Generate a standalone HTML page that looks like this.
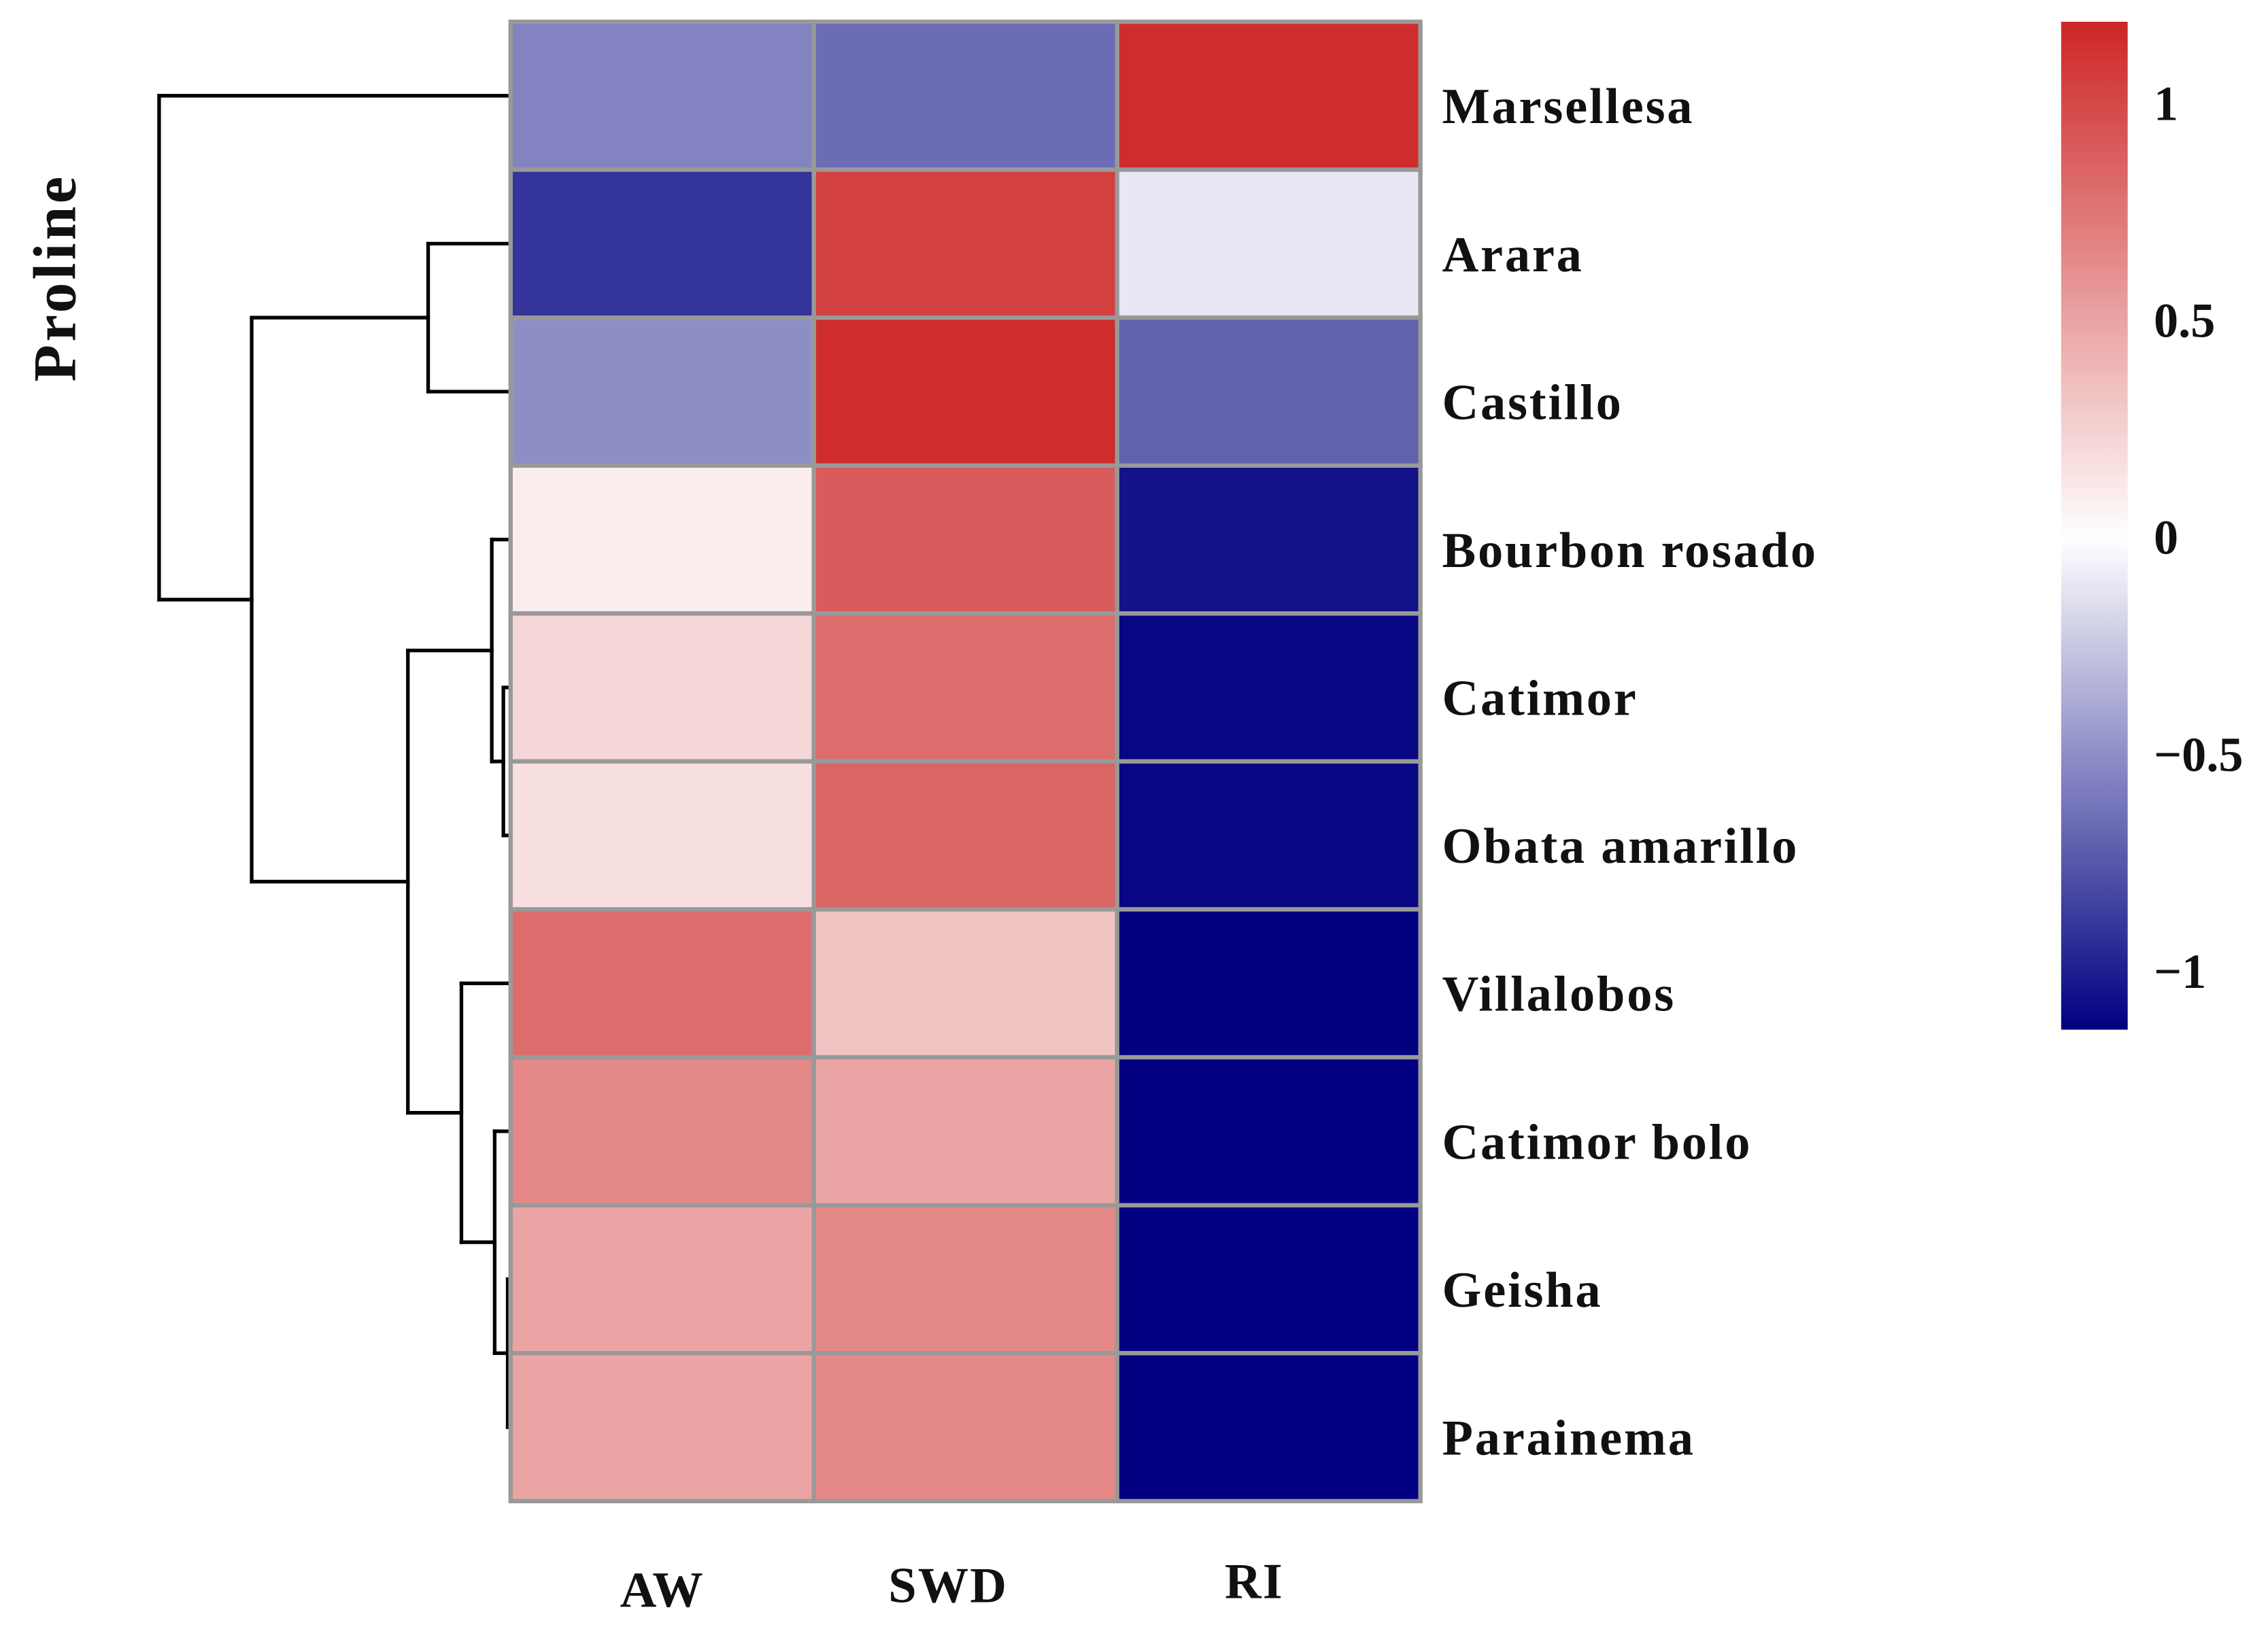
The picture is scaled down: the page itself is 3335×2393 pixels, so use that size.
<!DOCTYPE html>
<html>
<head>
<meta charset="utf-8">
<style>
html,body{margin:0;padding:0;background:#fff;}
svg{display:block;}
text{font-family:"Liberation Serif",serif;font-weight:bold;fill:#111;}
</style>
</head>
<body>
<svg id="chart" width="3335" height="2393" viewBox="0 0 1568 1125" xmlns="http://www.w3.org/2000/svg">
<defs>
<linearGradient id="cbg" x1="0" y1="1" x2="0" y2="0">
<stop offset="0" stop-color="#000080"/>
<stop offset="0.487" stop-color="#ffffff"/>
<stop offset="1" stop-color="#cd2626"/>
</linearGradient>
</defs>
<g id="dendro"></g>
<g id="cells"></g>
<g id="rowlabels"></g>
<g id="collabels"></g>
<text transform="translate(52,192) rotate(-90)" text-anchor="middle" font-size="42" letter-spacing="2">Proline</text>
<rect x="1425" y="15" width="46" height="697" fill="url(#cbg)"/>
<g id="cbticks"></g>
</svg>
<script>
const rows = ["Marsellesa","Arara","Castillo","Bourbon rosado","Catimor","Obata amarillo","Villalobos","Catimor bolo","Geisha","Parainema"];
const cols = ["AW","SWD","RI"];
const valAW  = [-0.55,-0.9,-0.5,0.1,0.22,0.17,0.8,0.65,0.5,0.5];
const valSWD = [-0.65,1.05,1.15,0.9,0.8,0.85,0.33,0.5,0.65,0.65];
const valRI  = [1.15,-0.1,-0.7,-1.05,-1.1,-1.1,-1.12,-1.13,-1.14,-1.14];
const cbTicks = [1,0.5,0,-0.5,-1];
const cbTickLabels = ["1","0.5","0","\u22120.5","\u22121"];
// dendrogram merges: [leftNode, rightNode, height(x-position)]
const merges = [[1,2,296],[4,5,348],[3,"m1",340],[8,9,351],[7,"m3",342],[6,"m4",319],["m2","m5",282],["m0","m6",174],[0,"m7",110]];

const NS="http://www.w3.org/2000/svg";
const x0=353,x1=982,y0=15,y1=1038;
const cw=(x1-x0)/cols.length, rh=(y1-y0)/rows.length;
const vmin=-1.13,vmax=1.19;
const colX=i=>x0+i*cw;
const rowY=i=>y0+i*rh;
const vY=v=>372-v*300;
function color(v){
  let a,b,t;
  if(v>=0){a=[255,255,255];b=[205,38,38];t=Math.min(1,v/vmax);}
  else{a=[255,255,255];b=[0,0,128];t=Math.min(1,v/vmin);}
  const c=a.map((x,i)=>Math.round(x+(b[i]-x)*t));
  return `rgb(${c[0]},${c[1]},${c[2]})`;
}
const series=[valAW,valSWD,valRI];
const cells=document.getElementById('cells');
series.forEach((s,ci)=>{s.forEach((v,ri)=>{
  const r=document.createElementNS(NS,'rect');
  r.setAttribute('x',colX(ci));r.setAttribute('y',rowY(ri));
  r.setAttribute('width',cw);r.setAttribute('height',rh);
  r.setAttribute('fill',color(v));r.setAttribute('stroke','#999');r.setAttribute('stroke-width','3');
  
  
  cells.appendChild(r);
});});
const rl=document.getElementById('rowlabels');
rows.forEach((n,i)=>{
  const t=document.createElementNS(NS,'text');
  t.setAttribute('x',997);t.setAttribute('y',rowY(i)+rh/2+19);t.setAttribute('font-size','35');
  t.setAttribute('letter-spacing','1.3');
  t.textContent=n;
  
  
  rl.appendChild(t);
});
const cl=document.getElementById('collabels');
const colOff=[0,-12,-10];
cols.forEach((n,i)=>{
  const t=document.createElementNS(NS,'text');
  t.setAttribute('x',colX(i)+cw/2+colOff[i]);t.setAttribute('y',1111-(i*3));t.setAttribute('font-size','35');
  t.setAttribute('letter-spacing','1');
  t.setAttribute('text-anchor','middle');t.textContent=n;
  
  
  cl.appendChild(t);
});
const cb=document.getElementById('cbticks');
cbTicks.forEach((v,i)=>{
  const t=document.createElementNS(NS,'text');
  t.setAttribute('x',1489);t.setAttribute('y',vY(v)+11);t.setAttribute('font-size','34');
  t.textContent=cbTickLabels[i];
  
  
  cb.appendChild(t);
});
const dg=document.getElementById('dendro');
const pos={};
rows.forEach((n,i)=>{pos[i]={x:x0,y:rowY(i)+rh/2};});
function line(xa,ya,xb,yb){
  const l=document.createElementNS(NS,'line');
  l.setAttribute('x1',xa);l.setAttribute('y1',ya);l.setAttribute('x2',xb);l.setAttribute('y2',yb);
  l.setAttribute('stroke','#000');l.setAttribute('stroke-width','2.5');l.setAttribute('stroke-linecap','square');
  
  
  dg.appendChild(l);
}
merges.forEach((m,k)=>{
  const a=pos[m[0]],b=pos[m[1]],h=m[2];
  line(h,a.y,a.x,a.y);line(h,b.y,b.x,b.y);line(h,a.y,h,b.y);
  pos['m'+k]={x:h,y:(a.y+b.y)/2};
});
</script>
</body>
</html>
